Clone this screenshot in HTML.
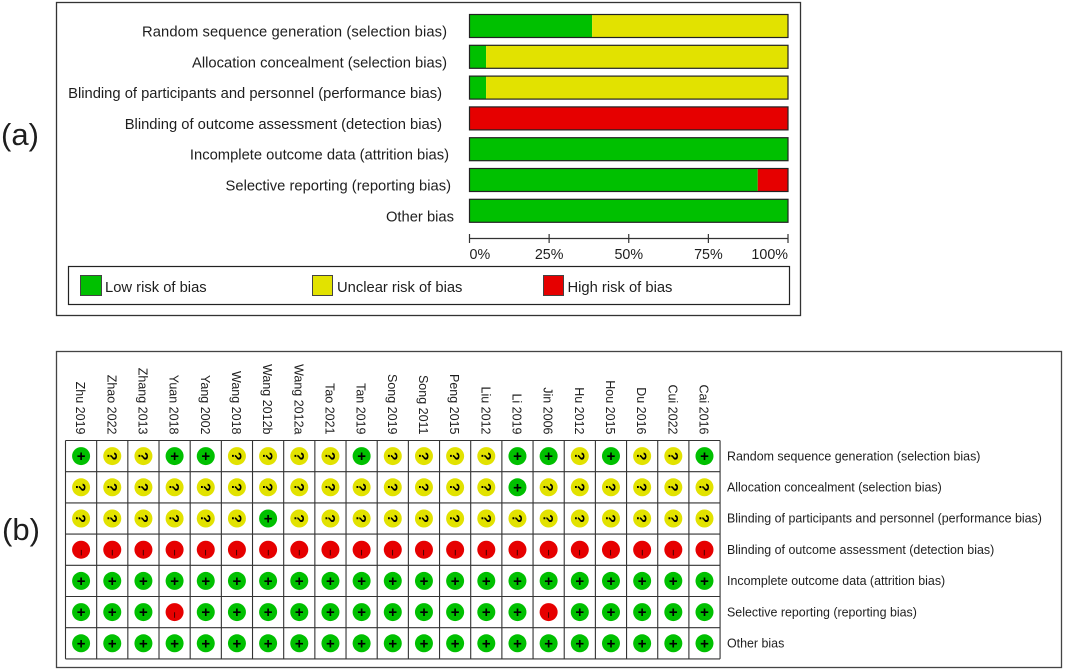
<!DOCTYPE html>
<html>
<head>
<meta charset="utf-8">
<style>
html,body{margin:0;padding:0;background:#fff;width:1065px;height:670px;overflow:hidden}
svg{display:block;font-family:"Liberation Sans",sans-serif}
text{fill:#1e1e1e}
text.sym{fill:#000}
</style>
</head>
<body>
<svg id="chart" width="1065" height="670" viewBox="0 0 1065 670" xmlns="http://www.w3.org/2000/svg">
<rect x="0" y="0" width="1065" height="670" fill="#fff"/>
<text x="1" y="145" font-size="31">(a)</text>
<text x="2" y="540" font-size="31">(b)</text>
<rect x="56.5" y="2.5" width="744" height="313" fill="none" stroke="#333" stroke-width="1.3"/>
<rect x="56.5" y="351.5" width="1005" height="316" fill="none" stroke="#444" stroke-width="1.3"/>
<rect x="68.5" y="266.5" width="721" height="38" fill="none" stroke="#222" stroke-width="1.2"/>
<rect x="80.5" y="275.5" width="21" height="20" fill="#00c000" stroke="#444"/>
<text x="105" y="292" font-size="14.75">Low risk of bias</text>
<rect x="312.5" y="275.5" width="20" height="20" fill="#e2e200" stroke="#444"/>
<text x="337" y="292" font-size="14.75">Unclear risk of bias</text>
<rect x="543.5" y="275.5" width="20" height="20" fill="#e60000" stroke="#444"/>
<text x="567.5" y="292" font-size="14.75">High risk of bias</text>
<g id="bars"></g>
<g id="axis"></g>
<g id="grid"></g>
</svg>
<script>
const domains = ["Random sequence generation (selection bias)","Allocation concealment (selection bias)","Blinding of participants and personnel (performance bias)","Blinding of outcome assessment (detection bias)","Incomplete outcome data (attrition bias)","Selective reporting (reporting bias)","Other bias"];
const lowPct = [38.5,5.2,5.2,0,100,90.5,100];
const unclearPct = [61.5,94.8,94.8,0,0,0,0];
const highPct = [0,0,0,100,0,9.5,0];
const axisTicks = [0,25,50,75,100];
const studies = ["Zhu 2019","Zhao 2022","Zhang 2013","Yuan 2018","Yang 2002","Wang 2018","Wang 2012b","Wang 2012a","Tao 2021","Tan 2019","Song 2019","Song 2011","Peng 2015","Liu 2012","Li 2019","Jin 2006","Hu 2012","Hou 2015","Du 2016","Cui 2022","Cai 2016"];
const judgements = [
  ["+","?","?","+","+","?","?","?","?","+","?","?","?","?","+","+","?","+","?","?","+"],
  ["?","?","?","?","?","?","?","?","?","?","?","?","?","?","+","?","?","?","?","?","?"],
  ["?","?","?","?","?","?","+","?","?","?","?","?","?","?","?","?","?","?","?","?","?"],
  ["-","-","-","-","-","-","-","-","-","-","-","-","-","-","-","-","-","-","-","-","-"],
  ["+","+","+","+","+","+","+","+","+","+","+","+","+","+","+","+","+","+","+","+","+"],
  ["+","+","+","-","+","+","+","+","+","+","+","+","+","+","+","-","+","+","+","+","+"],
  ["+","+","+","+","+","+","+","+","+","+","+","+","+","+","+","+","+","+","+","+","+"]
];

const NS = "http://www.w3.org/2000/svg";
const GREEN = "#00c000", YELLOW = "#e2e200", RED = "#e60000";
const make = (parent, tag, attrs, txt) => {
  const el = document.createElementNS(NS, tag);
  for (const k in attrs) el.setAttribute(k, attrs[k]);
  if (txt !== undefined) el.textContent = txt;
  parent.appendChild(el);
  return el;
};
const xScale = p => 469.5 + (p / 100) * 318.5;
const barY = i => 14.5 + i * 30.8;
const BAR_H = 23;
const labelEnds = [447, 447, 442, 442, 449, 451, 454];
const colX = j => 65.5 + j * 31.17;
const rowY = i => 440.5 + i * 31.2;

const barsG = document.getElementById("bars");
domains.forEach((d, i) => {
  const lab = make(barsG, "text", {x: labelEnds[i], y: barY(i) + 22, "font-size": 14.75, "text-anchor": "end"}, d);
  if (i === 0) lab.setAttribute("textLength", 305);
  
  
  const segs = [[lowPct[i], GREEN, 'low'], [unclearPct[i], YELLOW, 'unclear'], [highPct[i], RED, 'high']];
  let acc = 0;
  segs.forEach(s => {
    if (s[0] > 0) {
      const r = make(barsG, "rect", {x: xScale(acc), y: barY(i), width: xScale(acc + s[0]) - xScale(acc), height: BAR_H, fill: s[1]});
      
      
    }
    acc += s[0];
  });
  const o = make(barsG, "rect", {x: xScale(0), y: barY(i), width: xScale(100) - xScale(0), height: BAR_H, fill: "none", stroke: "#222", "stroke-width": 1.2});
  
  
});

const axisG = document.getElementById("axis");
const axisLine = make(axisG, "line", {x1: xScale(0), x2: xScale(100), y1: 238.5, y2: 238.5, stroke: "#333", "stroke-width": 1.2});


axisTicks.forEach((t, k) => {
  const tick = make(axisG, "line", {x1: xScale(t), x2: xScale(t), y1: 234, y2: 243, stroke: "#333", "stroke-width": 1.2});
  
  
  const anchor = k === 0 ? "start" : (k === axisTicks.length - 1 ? "end" : "middle");
  const lab = make(axisG, "text", {x: xScale(t), y: 259, "font-size": 14.3, "text-anchor": anchor}, t + "%");
  
  
});

const gridG = document.getElementById("grid");
const W = 31.17, H = 31.2;
for (let i = 0; i <= domains.length; i++) {
  const l = make(gridG, "line", {x1: colX(0), x2: colX(studies.length), y1: rowY(i), y2: rowY(i), stroke: "#333", "stroke-width": 1.1});
  
  
}
for (let j = 0; j <= studies.length; j++) {
  const l = make(gridG, "line", {x1: colX(j), x2: colX(j), y1: rowY(0), y2: rowY(domains.length), stroke: "#333", "stroke-width": 1.1});
  
  
}
studies.forEach((s, j) => {
  const cx = colX(j) + W / 2 - 5;
  const t = make(gridG, "text", {transform: `translate(${cx},434.5) rotate(90)`, "font-size": 12.5, "text-anchor": "end"}, s);
  
  
});
domains.forEach((d, i) => {
  const t = make(gridG, "text", {x: 727, y: rowY(i) + H / 2 + 4.2, "font-size": 12.43}, d);
  
  
  studies.forEach((s, j) => {
    const v = judgements[i][j];
    const cx = colX(j) + W / 2, cy = rowY(i) + H / 2;
    const c = make(gridG, "circle", {cx: cx, cy: cy, r: 9, fill: v === "+" ? GREEN : v === "?" ? YELLOW : RED});
    
    
    let sym;
    if (v === "+") {
      sym = make(gridG, "text", {class: "sym", x: cx, y: cy + 5, "font-size": 15, "font-weight": "bold", "text-anchor": "middle"}, "+");
    } else if (v === "?") {
      sym = make(gridG, "text", {class: "sym", transform: `translate(${cx - 5},${cy}) rotate(90)`, "font-size": 14, "font-weight": "bold", "text-anchor": "middle"}, "?");
    } else {
      sym = make(gridG, "text", {class: "sym", transform: `translate(${cx - 2.8},${cy + 0.2}) rotate(90)`, "font-size": 10, "text-anchor": "start"}, "–");
    }
    
    
  });
});
</script>
</body>
</html>
